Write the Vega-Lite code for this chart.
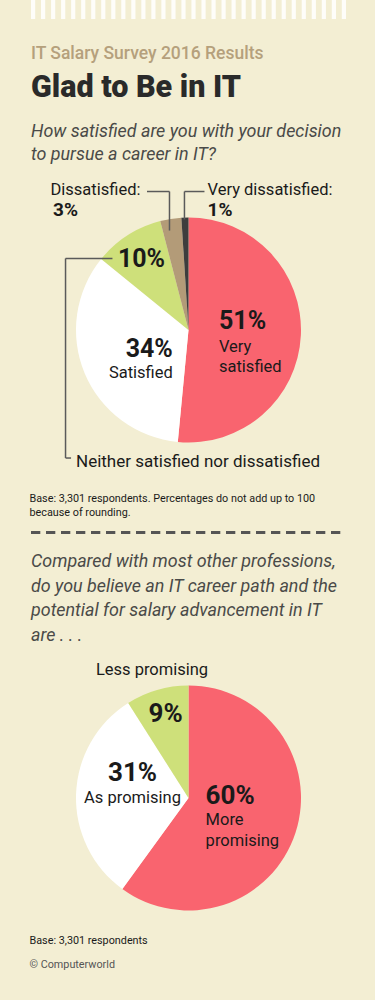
{
  "$schema": "https://vega.github.io/schema/vega-lite/v6.json",
  "background": "#f3eed3",
  "padding": {"left": 29, "right": 31, "top": 0, "bottom": 34},
  "spacing": 19,
  "config": {"view": {"stroke": null}, "font": "Roboto"},
  "title": {
    "text": "Base: 3,301 respondents",
    "subtitle": "© Computerworld",
    "orient": "bottom",
    "anchor": "start",
    "offset": 12,
    "font": "Roboto",
    "fontSize": 10.8,
    "fontWeight": "normal",
    "color": "#1a1a1a",
    "subtitleFont": "Roboto",
    "subtitleFontSize": 10.8,
    "subtitleColor": "#555555",
    "subtitlePadding": 13.5
  },
  "vconcat": [
    {
      "width": 315,
      "height": 19,
      "data": {"values": [
        {"i": 1}, {"i": 2}, {"i": 3}, {"i": 4}, {"i": 5}, {"i": 6}, {"i": 7}, {"i": 8},
        {"i": 9}, {"i": 10}, {"i": 11}, {"i": 12}, {"i": 13}, {"i": 14}, {"i": 15}, {"i": 16},
        {"i": 17}, {"i": 18}, {"i": 19}, {"i": 20}, {"i": 21}, {"i": 22}, {"i": 23}, {"i": 24},
        {"i": 25}, {"i": 26}, {"i": 27}, {"i": 28}, {"i": 29}, {"i": 30}, {"i": 31}, {"i": 32}
      ]},
      "title": {
        "text": "IT Salary Survey 2016 Results",
        "subtitle": "Glad to Be in IT",
        "orient": "bottom",
        "anchor": "start",
        "offset": 26,
        "font": "Roboto",
        "fontSize": 17.5,
        "fontWeight": 500,
        "color": "#b5a07c",
        "subtitleFont": "Roboto",
        "subtitleFontSize": 30.5,
        "subtitleFontWeight": 900,
        "subtitleColor": "#2a2a2a",
        "subtitlePadding": 10
      },
      "mark": {"type": "bar", "color": "#ffffff", "opacity": 0.85},
      "encoding": {
        "x": {"field": "i", "type": "ordinal", "axis": null, "scale": {"paddingInner": 0.58, "paddingOuter": 0}}
      }
    },
    {
      "width": 315,
      "height": 286,
      "data": {"values": [
        {"cat": "Very satisfied", "label": "Very satisfied", "pct": 0.51},
        {"cat": "Satisfied", "label": "Satisfied", "pct": 0.34},
        {"cat": "Neither satisfied nor dissatisfied", "label": "Neither satisfied nor dissatisfied", "pct": 0.10},
        {"cat": "Dissatisfied", "label": "Dissatisfied:", "pct": 0.03},
        {"cat": "Very dissatisfied", "label": "Very dissatisfied:", "pct": 0.01}
      ]},
      "title": {
        "text": ["How satisfied are you with your decision", "to pursue a career in IT?"],
        "anchor": "start",
        "offset": 18,
        "font": "Roboto",
        "fontSize": 17.9,
        "fontStyle": "italic",
        "fontWeight": "normal",
        "color": "#4a4a48",
        "lineHeight": 22.7
      },
      "layer": [
        {
          "mark": {"type": "arc", "radius": 112.5},
          "encoding": {
            "theta": {"field": "pct", "type": "quantitative", "stack": true},
            "order": {"field": "pct", "sort": "descending"},
            "color": {"field": "cat", "type": "nominal", "legend": null,
              "scale": {"domain": ["Very satisfied", "Satisfied", "Neither satisfied nor dissatisfied", "Dissatisfied", "Very dissatisfied"],
                        "range": ["#f9646f", "#ffffff", "#cee07a", "#b39b78", "#3d3d3d"]}}
          }
        },
        {
          "transform": [{"filter": "datum.cat === 'Dissatisfied'"}],
          "mark": {"type": "rule", "color": "#5a5a5a", "strokeWidth": 1.5},
          "encoding": {
            "x": {"datum": -0.369, "scale": {"domain": [-1.4, 1.4]}, "axis": null},
            "x2": {"datum": -0.169},
            "y": {"datum": -1.231, "scale": {"domain": [-1.2711, 1.2711], "reverse": true}, "axis": null}
          }
        },
        {
          "transform": [{"filter": "datum.cat === 'Dissatisfied'"}],
          "mark": {"type": "rule", "color": "#5a5a5a", "strokeWidth": 1.5},
          "encoding": {
            "x": {"datum": -0.169, "scale": {"domain": [-1.4, 1.4]}, "axis": null},
            "y": {"datum": -1.231, "scale": {"domain": [-1.2711, 1.2711], "reverse": true}, "axis": null},
            "y2": {"datum": -0.884}
          }
        },
        {
          "transform": [{"filter": "datum.cat === 'Very dissatisfied'"}],
          "mark": {"type": "rule", "color": "#5a5a5a", "strokeWidth": 1.5},
          "encoding": {
            "x": {"datum": -0.036, "scale": {"domain": [-1.4, 1.4]}, "axis": null},
            "x2": {"datum": 0.142},
            "y": {"datum": -1.231, "scale": {"domain": [-1.2711, 1.2711], "reverse": true}, "axis": null}
          }
        },
        {
          "transform": [{"filter": "datum.cat === 'Very dissatisfied'"}],
          "mark": {"type": "rule", "color": "#5a5a5a", "strokeWidth": 1.5},
          "encoding": {
            "x": {"datum": -0.036, "scale": {"domain": [-1.4, 1.4]}, "axis": null},
            "y": {"datum": -1.231, "scale": {"domain": [-1.2711, 1.2711], "reverse": true}, "axis": null},
            "y2": {"datum": -0.982}
          }
        },
        {
          "transform": [{"filter": "datum.cat === 'Neither satisfied nor dissatisfied'"}],
          "mark": {"type": "rule", "color": "#5a5a5a", "strokeWidth": 1.5},
          "encoding": {
            "x": {"datum": -1.093, "scale": {"domain": [-1.4, 1.4]}, "axis": null},
            "x2": {"datum": -0.676},
            "y": {"datum": -0.636, "scale": {"domain": [-1.2711, 1.2711], "reverse": true}, "axis": null}
          }
        },
        {
          "transform": [{"filter": "datum.cat === 'Neither satisfied nor dissatisfied'"}],
          "mark": {"type": "rule", "color": "#5a5a5a", "strokeWidth": 1.5},
          "encoding": {
            "x": {"datum": -1.093, "scale": {"domain": [-1.4, 1.4]}, "axis": null},
            "y": {"datum": -0.636, "scale": {"domain": [-1.2711, 1.2711], "reverse": true}, "axis": null},
            "y2": {"datum": 1.138}
          }
        },
        {
          "transform": [{"filter": "datum.cat === 'Neither satisfied nor dissatisfied'"}],
          "mark": {"type": "rule", "color": "#5a5a5a", "strokeWidth": 1.5},
          "encoding": {
            "x": {"datum": -1.093, "scale": {"domain": [-1.4, 1.4]}, "axis": null},
            "x2": {"datum": -1.044},
            "y": {"datum": 1.138, "scale": {"domain": [-1.2711, 1.2711], "reverse": true}, "axis": null}
          }
        },
        {
          "mark": {"type": "text", "radius": 30, "align": "left", "baseline": "alphabetic", "dx": 0.5, "dy": -2, "fontSize": 25, "fontWeight": "bold", "color": "#1a1a1a"},
          "encoding": {
            "theta": {"field": "pct", "type": "quantitative", "stack": true},
            "order": {"field": "pct", "sort": "descending"},
            "detail": {"field": "cat"},
            "text": {"condition": {"test": "datum.cat === 'Very satisfied'", "field": "pct", "type": "quantitative", "format": ".0%"}, "value": ""}
          }
        },
        {
          "mark": {"type": "text", "radius": 30, "align": "left", "baseline": "alphabetic", "dx": 0.5, "dy": 21, "fontSize": 16.5, "lineBreak": " ", "lineHeight": 20, "color": "#1a1a1a"},
          "encoding": {
            "theta": {"field": "pct", "type": "quantitative", "stack": true},
            "order": {"field": "pct", "sort": "descending"},
            "detail": {"field": "cat"},
            "text": {"condition": {"test": "datum.cat === 'Very satisfied'", "field": "label"}, "value": ""}
          }
        },
        {
          "mark": {"type": "text", "radius": 17, "align": "right", "baseline": "alphabetic", "dy": 20, "fontSize": 25, "fontWeight": "bold", "color": "#1a1a1a"},
          "encoding": {
            "theta": {"field": "pct", "type": "quantitative", "stack": true},
            "order": {"field": "pct", "sort": "descending"},
            "detail": {"field": "cat"},
            "text": {"condition": {"test": "datum.cat === 'Satisfied'", "field": "pct", "type": "quantitative", "format": ".0%"}, "value": ""}
          }
        },
        {
          "mark": {"type": "text", "radius": 17, "align": "right", "baseline": "alphabetic", "dy": 41, "fontSize": 16.5, "color": "#1a1a1a"},
          "encoding": {
            "theta": {"field": "pct", "type": "quantitative", "stack": true},
            "order": {"field": "pct", "sort": "descending"},
            "detail": {"field": "cat"},
            "text": {"condition": {"test": "datum.cat === 'Satisfied'", "field": "label"}, "value": ""}
          }
        },
        {
          "mark": {"type": "text", "radius": 87, "align": "center", "baseline": "alphabetic", "dy": 9.7, "fontSize": 25, "fontWeight": "bold", "color": "#1a1a1a"},
          "encoding": {
            "theta": {"field": "pct", "type": "quantitative", "stack": true},
            "order": {"field": "pct", "sort": "descending"},
            "detail": {"field": "cat"},
            "text": {"condition": {"test": "datum.cat === 'Neither satisfied nor dissatisfied'", "field": "pct", "type": "quantitative", "format": ".0%"}, "value": ""}
          }
        },
        {
          "mark": {"type": "text", "radius": 0, "align": "left", "baseline": "alphabetic", "dx": -112.5, "dy": 136.5, "fontSize": 17, "color": "#1a1a1a"},
          "encoding": {
            "theta": {"field": "pct", "type": "quantitative", "stack": true},
            "order": {"field": "pct", "sort": "descending"},
            "detail": {"field": "cat"},
            "text": {"condition": {"test": "datum.cat === 'Neither satisfied nor dissatisfied'", "field": "label"}, "value": ""}
          }
        },
        {
          "mark": {"type": "text", "radius": 0, "align": "left", "baseline": "alphabetic", "dx": -138, "dy": -135.5, "fontSize": 16.5, "color": "#1a1a1a"},
          "encoding": {
            "theta": {"field": "pct", "type": "quantitative", "stack": true},
            "order": {"field": "pct", "sort": "descending"},
            "detail": {"field": "cat"},
            "text": {"condition": {"test": "datum.cat === 'Dissatisfied'", "field": "label"}, "value": ""}
          }
        },
        {
          "mark": {"type": "text", "radius": 0, "align": "left", "baseline": "alphabetic", "dx": -135.5, "dy": -114.5, "fontSize": 19, "fontWeight": "bold", "color": "#1a1a1a"},
          "encoding": {
            "theta": {"field": "pct", "type": "quantitative", "stack": true},
            "order": {"field": "pct", "sort": "descending"},
            "detail": {"field": "cat"},
            "text": {"condition": {"test": "datum.cat === 'Dissatisfied'", "field": "pct", "type": "quantitative", "format": ".0%"}, "value": ""}
          }
        },
        {
          "mark": {"type": "text", "radius": 0, "align": "left", "baseline": "alphabetic", "dx": 19, "dy": -135.5, "fontSize": 16.5, "color": "#1a1a1a"},
          "encoding": {
            "theta": {"field": "pct", "type": "quantitative", "stack": true},
            "order": {"field": "pct", "sort": "descending"},
            "detail": {"field": "cat"},
            "text": {"condition": {"test": "datum.cat === 'Very dissatisfied'", "field": "label"}, "value": ""}
          }
        },
        {
          "mark": {"type": "text", "radius": 0, "align": "left", "baseline": "alphabetic", "dx": 19, "dy": -114.5, "fontSize": 19, "fontWeight": "bold", "color": "#1a1a1a"},
          "encoding": {
            "theta": {"field": "pct", "type": "quantitative", "stack": true},
            "order": {"field": "pct", "sort": "descending"},
            "detail": {"field": "cat"},
            "text": {"condition": {"test": "datum.cat === 'Very dissatisfied'", "field": "pct", "type": "quantitative", "format": ".0%"}, "value": ""}
          }
        }
      ]
    },
    {
      "width": 315,
      "height": 1,
      "data": {"values": [{"divider": "section"}]},
      "title": {
        "text": ["Base: 3,301 respondents. Percentages do not add up to 100", "because of rounding."],
        "anchor": "start",
        "offset": 13,
        "font": "Roboto",
        "fontSize": 10.8,
        "fontWeight": "normal",
        "color": "#1a1a1a",
        "lineHeight": 14.3
      },
      "mark": {"type": "rule", "strokeDash": [9.3, 5.7], "strokeWidth": 3, "color": "#555555"},
      "encoding": {
        "x": {"datum": 0, "scale": {"domain": [0, 1]}, "axis": null},
        "x2": {"datum": 1},
        "y": {"datum": 0.5, "scale": {"domain": [0, 1]}, "axis": null}
      }
    },
    {
      "width": 315,
      "height": 250,
      "data": {"values": [
        {"cat": "More promising", "pct": 0.60},
        {"cat": "As promising", "pct": 0.31},
        {"cat": "Less promising", "pct": 0.09}
      ]},
      "title": {
        "text": ["Compared with most other professions,", "do you believe an IT career path and the", "potential for salary advancement in IT", "are . . ."],
        "anchor": "start",
        "offset": 17,
        "font": "Roboto",
        "fontSize": 17.9,
        "fontStyle": "italic",
        "fontWeight": "normal",
        "color": "#4a4a48",
        "lineHeight": 24.7
      },
      "layer": [
        {
          "mark": {"type": "arc", "radius": 112.5},
          "encoding": {
            "theta": {"field": "pct", "type": "quantitative", "stack": true},
            "order": {"field": "pct", "sort": "descending"},
            "color": {"field": "cat", "type": "nominal", "legend": null,
              "scale": {"domain": ["More promising", "As promising", "Less promising"],
                        "range": ["#f9646f", "#ffffff", "#cee07a"]}}
          }
        },
        {
          "mark": {"type": "text", "radius": 18, "align": "left", "baseline": "alphabetic", "dy": 0, "fontSize": 26, "fontWeight": "bold", "color": "#1a1a1a"},
          "encoding": {
            "theta": {"field": "pct", "type": "quantitative", "stack": true},
            "order": {"field": "pct", "sort": "descending"},
            "detail": {"field": "cat"},
            "text": {"condition": {"test": "datum.cat === 'More promising'", "field": "pct", "type": "quantitative", "format": ".0%"}, "value": ""}
          }
        },
        {
          "mark": {"type": "text", "radius": 18, "align": "left", "baseline": "alphabetic", "dy": 21.4, "fontSize": 16.5, "lineBreak": " ", "lineHeight": 21.5, "color": "#1a1a1a"},
          "encoding": {
            "theta": {"field": "pct", "type": "quantitative", "stack": true},
            "order": {"field": "pct", "sort": "descending"},
            "detail": {"field": "cat"},
            "text": {"condition": {"test": "datum.cat === 'More promising'", "field": "cat"}, "value": ""}
          }
        },
        {
          "mark": {"type": "text", "radius": 56, "align": "center", "baseline": "alphabetic", "dy": -15.5, "fontSize": 26, "fontWeight": "bold", "color": "#1a1a1a"},
          "encoding": {
            "theta": {"field": "pct", "type": "quantitative", "stack": true},
            "order": {"field": "pct", "sort": "descending"},
            "detail": {"field": "cat"},
            "text": {"condition": {"test": "datum.cat === 'As promising'", "field": "pct", "type": "quantitative", "format": ".0%"}, "value": ""}
          }
        },
        {
          "mark": {"type": "text", "radius": 56, "align": "center", "baseline": "alphabetic", "dy": 6.8, "fontSize": 16.5, "color": "#1a1a1a"},
          "encoding": {
            "theta": {"field": "pct", "type": "quantitative", "stack": true},
            "order": {"field": "pct", "sort": "descending"},
            "detail": {"field": "cat"},
            "text": {"condition": {"test": "datum.cat === 'As promising'", "field": "cat"}, "value": ""}
          }
        },
        {
          "mark": {"type": "text", "radius": 82, "align": "center", "baseline": "alphabetic", "dy": 2.4, "fontSize": 26, "fontWeight": "bold", "color": "#1a1a1a"},
          "encoding": {
            "theta": {"field": "pct", "type": "quantitative", "stack": true},
            "order": {"field": "pct", "sort": "descending"},
            "detail": {"field": "cat"},
            "text": {"condition": {"test": "datum.cat === 'Less promising'", "field": "pct", "type": "quantitative", "format": ".0%"}, "value": ""}
          }
        },
        {
          "mark": {"type": "text", "radius": 0, "align": "center", "baseline": "alphabetic", "dx": -36.5, "dy": -123, "fontSize": 16.5, "color": "#1a1a1a"},
          "encoding": {
            "theta": {"field": "pct", "type": "quantitative", "stack": true},
            "order": {"field": "pct", "sort": "descending"},
            "detail": {"field": "cat"},
            "text": {"condition": {"test": "datum.cat === 'Less promising'", "field": "cat"}, "value": ""}
          }
        }
      ]
    }
  ]
}
